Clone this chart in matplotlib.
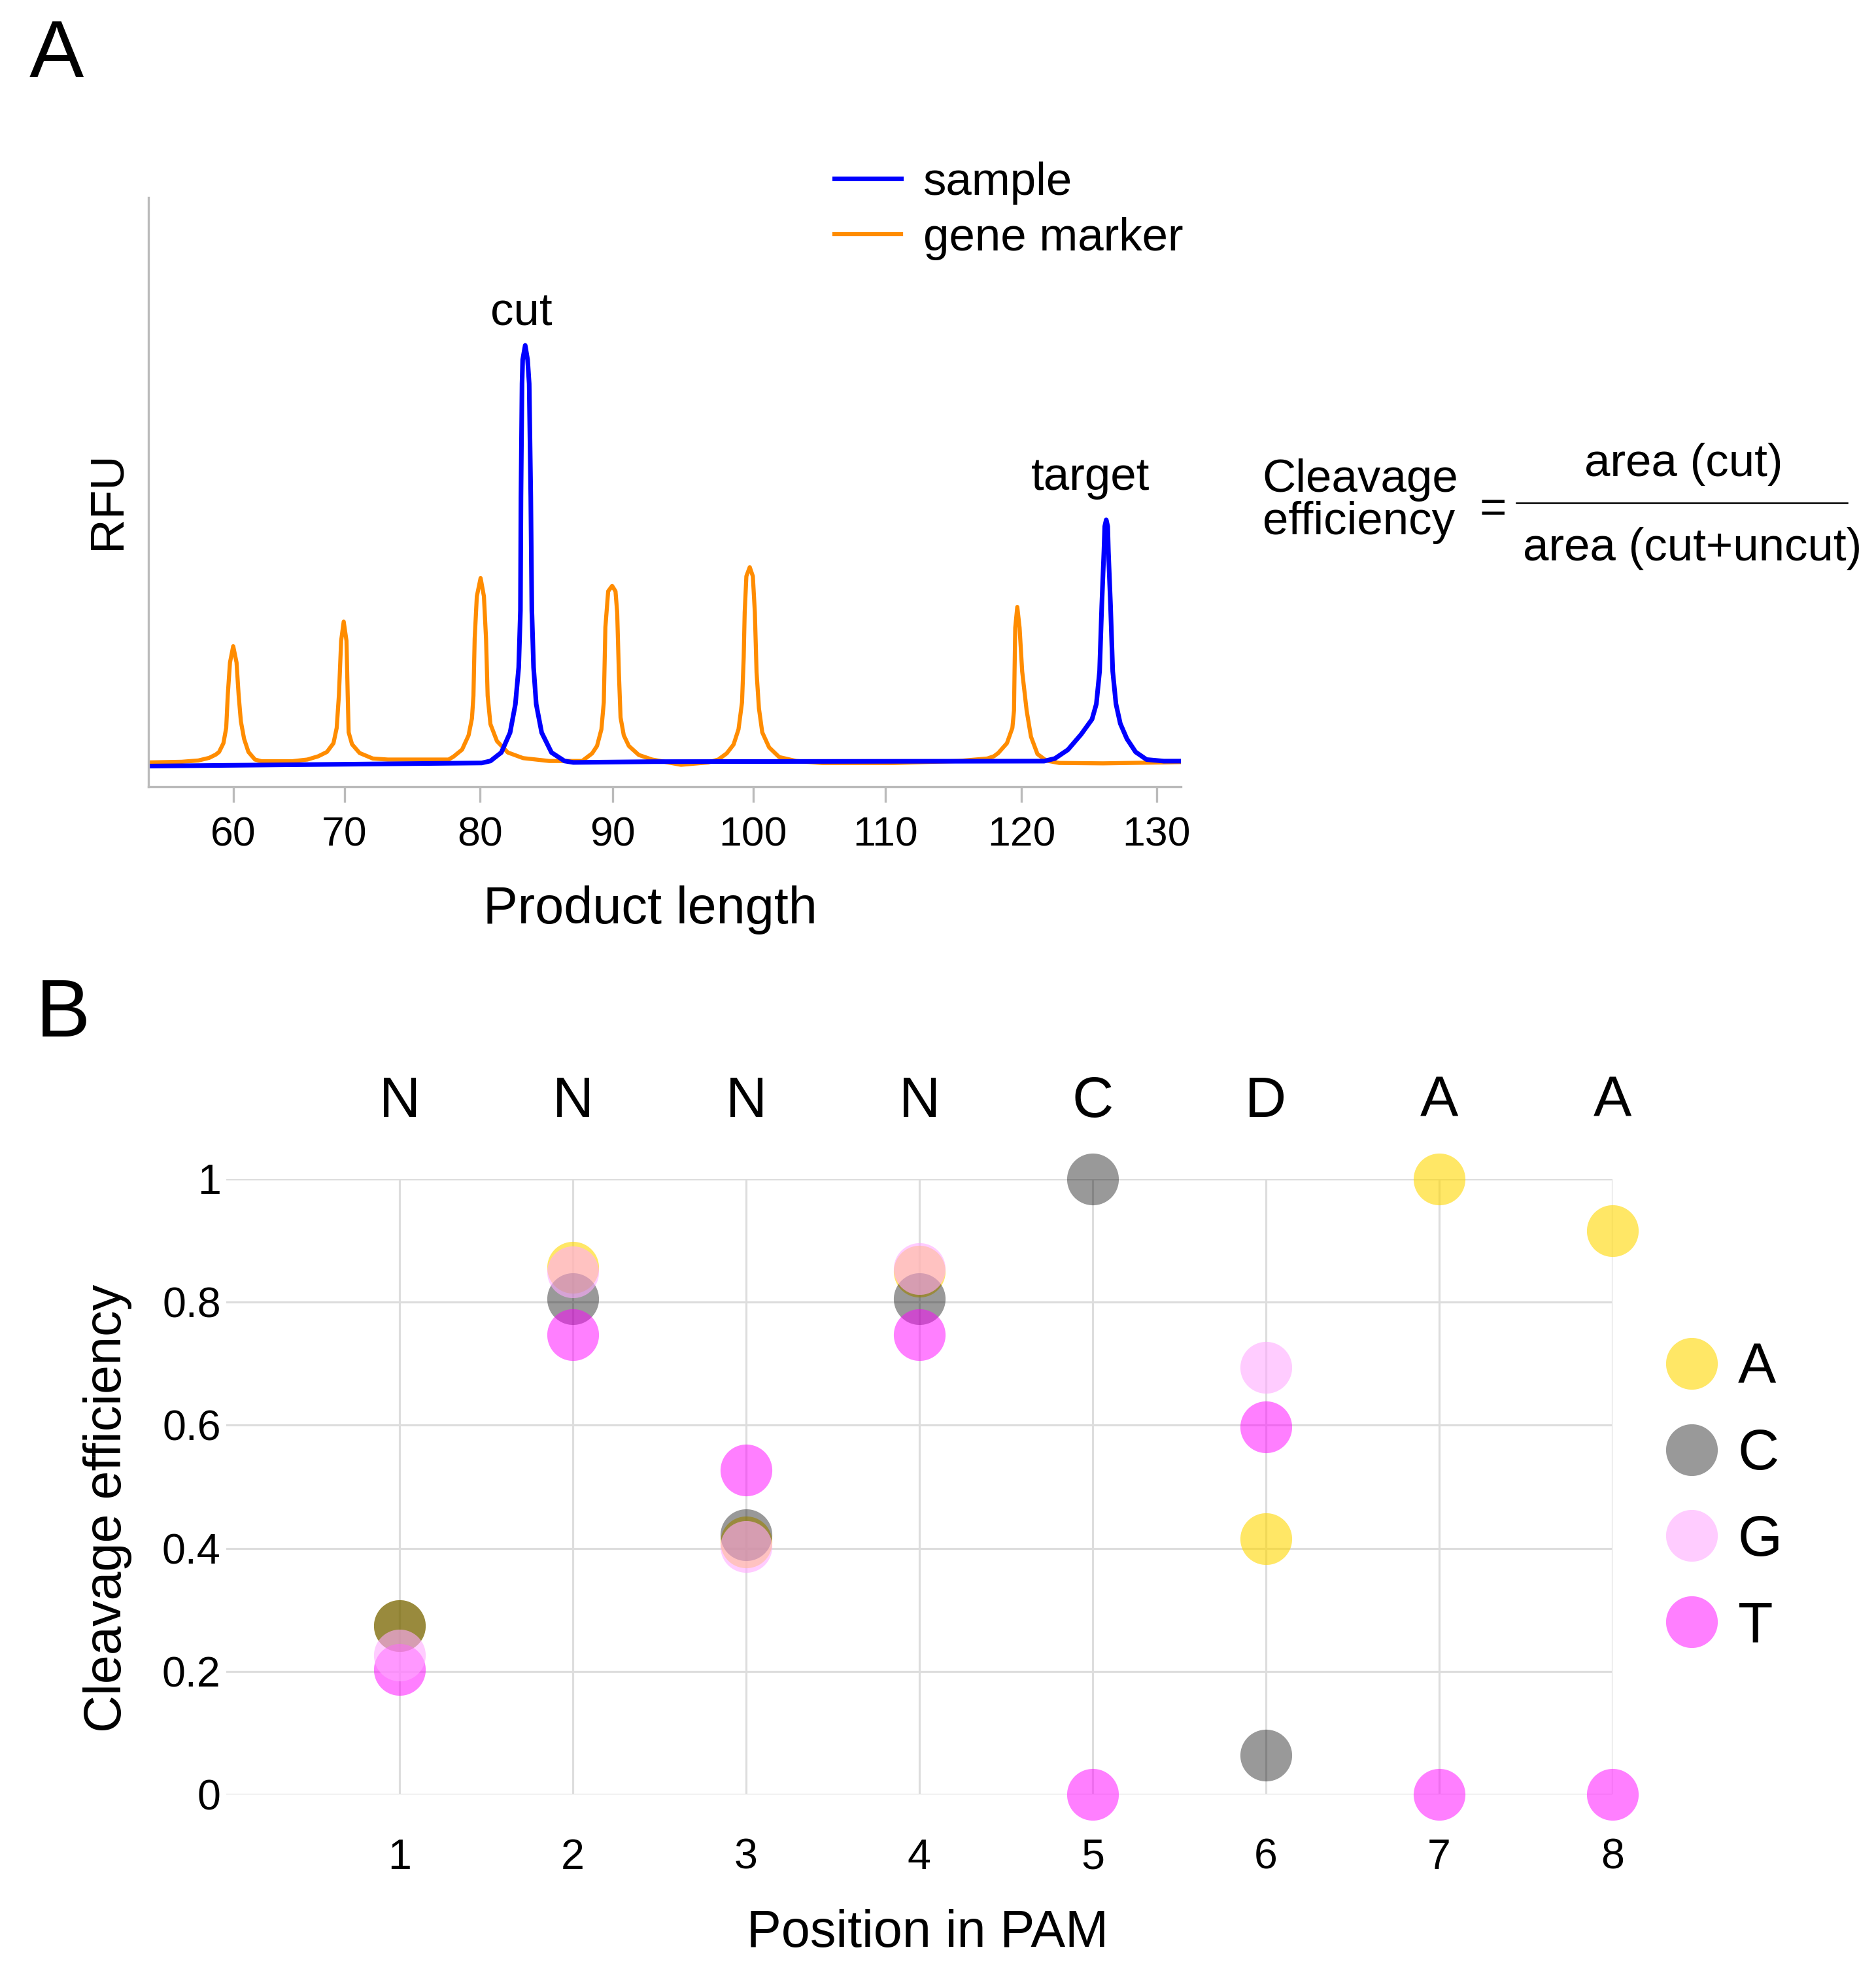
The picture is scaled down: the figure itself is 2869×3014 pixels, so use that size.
import numpy as np
import matplotlib.pyplot as plt
from matplotlib.lines import Line2D
from matplotlib.ticker import FuncFormatter

plt.rcParams['font.family'] = ['Liberation Sans', 'DejaVu Sans']

# ---- panel A: electropherogram (product length in bp, RFU) ----
marker_size = [52.35, 55.35, 56.85, 57.82, 58.41, 58.71, 59.10, 59.35, 59.49, 59.69, 59.98,
               60.28, 60.47, 60.67, 60.96, 61.35, 61.94, 62.53,
               65.28, 66.65, 67.63, 68.41, 69.00, 69.29, 69.49, 69.69, 69.92, 70.14, 70.23,
               70.30, 70.55, 71.11, 72.08, 73.20,
               77.68, 78.04, 78.68, 79.16, 79.41, 79.52, 79.61, 79.77, 80.05, 80.30, 80.46,
               80.58, 80.79, 81.28, 82.10, 83.25, 85.22,
               87.70, 88.45, 88.82, 89.15, 89.33, 89.45, 89.66, 89.96, 90.20, 90.32, 90.44,
               90.56, 90.79, 91.15, 91.86, 92.81, 94.86, 96.79,
               97.51, 98.11, 98.60, 98.95, 99.20, 99.32, 99.39, 99.51, 99.75, 99.97, 100.12,
               100.25, 100.43, 100.68, 101.20, 101.96, 103.25, 105.3, 110.42, 115.40, 117.50,
               117.98, 118.30, 118.94, 119.34, 119.46, 119.50, 119.55, 119.70, 119.87, 120.06,
               120.39, 120.71, 121.19, 121.84, 122.80, 126.03, 130.53, 131.79]
marker_rfu = [-5, 0, 10, 30, 55, 75, 142, 259, 509, 759, 884,
              759, 509, 309, 175, 75, 17, 4,
              4, 17, 42, 75, 142, 259, 509, 925, 1072, 925, 509,
              225, 134, 67, 25, 17,
              17, 39, 93, 202, 332, 505, 940, 1265, 1405, 1265, 940,
              505, 288, 158, 71, 28, 6,
              6, 64, 121, 248, 454, 1029, 1304, 1345, 1304, 1143, 684,
              339, 202, 121, 52, 17, -23, -5,
              17, 64, 132, 248, 454, 799, 1143, 1419, 1488, 1419, 1143,
              684, 408, 225, 110, 36, 6, -10, -10, 6, 25,
              42, 67, 142, 259, 392, 692, 1025, 1184, 1025, 692,
              392, 192, 59, 9, -9, -12, -5, -2]

sample_size = [52.35, 80.13, 80.79, 81.61, 82.27, 82.67, 82.92, 83.05, 83.09, 83.17, 83.22,
               83.41, 83.59, 83.71, 83.83, 83.91, 84.04, 84.24, 84.65, 85.39, 86.37, 87.03,
               92.93, 121.68, 122.48, 123.44, 124.41, 125.22, 125.54, 125.78, 125.94, 126.10,
               126.16, 126.27, 126.38, 126.43, 126.59, 126.75, 126.99, 127.31, 127.80, 128.44,
               129.25, 130.53, 131.79]
sample_rfu = [-33, -9, 6, 71, 223, 440, 722, 1156, 2025, 2891, 3075,
              3184, 3075, 2891, 2025, 1156, 722, 440, 223, 71, 6, -5,
              1, 5, 25, 92, 209, 325, 442, 692, 1192, 1609,
              1800, 1850, 1800, 1609, 1192, 692, 442, 292, 175, 75,
              17, 5, 5]

# size-standard calibration (bp -> migration scan)
ladder_size = [50, 60, 70, 80, 90, 100, 110, 120, 130, 140]
ladder_scan = [187, 357, 527, 734, 937, 1152, 1354, 1562, 1769, 1976]
size_ticks = [60, 70, 80, 90, 100, 110, 120, 130]

# ---- panel B: cleavage efficiency per PAM position ----
positions = [1, 2, 3, 4, 5, 6, 7, 8]
pam = ['N', 'N', 'N', 'N', 'C', 'D', 'A', 'A']
bases = ['A', 'C', 'G', 'T']
eff = {
    'A': [0.274, 0.857, 0.41, 0.85, np.nan, 0.415, 1.0, 0.916],
    'C': [0.274, 0.806, 0.422, 0.805, 1.0, 0.064, np.nan, np.nan],
    'G': [0.226, 0.849, 0.403, 0.854, np.nan, 0.694, np.nan, np.nan],
    'T': [0.203, 0.747, 0.527, 0.747, 0.0, 0.597, 0.0, 0.0],
}
base_colors = {'A': '#ffd700', 'C': '#000000', 'G': '#ffaaff', 'T': '#ff00ff'}
base_alpha = {'A': 0.6, 'C': 0.4, 'G': 0.6, 'T': 0.5}
draw_order = ['A', 'C', 'T', 'G']

fig = plt.figure(figsize=(2869 / 300, 3014 / 300), dpi=300)

# ---------------- A ----------------
axA = fig.add_axes([0.0791, 0.6009, 0.5504, 0.2989])
fwd = lambda x: np.interp(x, ladder_size, ladder_scan)
inv = lambda y: np.interp(y, ladder_scan, ladder_size)
axA.set_xscale('function', functions=(fwd, inv))
l_marker, = axA.plot(marker_size, marker_rfu, color='#ff8c00', lw=1.5, label='gene marker')
l_sample, = axA.plot(sample_size, sample_rfu, color='#0000ff', lw=1.7, label='sample')
axA.set_xlim(52.35, 131.79)
axA.set_ylim(-190, 4315)
axA.set_xticks(size_ticks)
axA.set_xticklabels([str(t) for t in size_ticks])
axA.set_yticks([])
axA.tick_params(axis='x', direction='out', length=5.8, width=0.8, color='#bbbbbb',
                labelsize=15, pad=5)
for s in ['top', 'right']:
    axA.spines[s].set_visible(False)
for s in ['left', 'bottom']:
    axA.spines[s].set_color('#bbbbbb')
    axA.spines[s].set_linewidth(0.8)
axA.set_xlabel('Product length', fontsize=19)
axA.xaxis.set_label_coords(0.486, -0.168)
axA.set_ylabel('RFU', fontsize=17.5)
axA.yaxis.set_label_coords(-0.018, 0.486)
axA.text(83.1, 3335, 'cut', ha='center', va='baseline', fontsize=17)
axA.text(125.1, 2080, 'target', ha='center', va='baseline', fontsize=17)
fig.legend(handles=[l_sample, l_marker], loc='upper left', bbox_to_anchor=(0.4448, 0.9180),
           frameon=False, fontsize=17, handlelength=1.44, handletextpad=0.48,
           labelspacing=0.27, borderpad=0, borderaxespad=0)

# formula
fig.text(0.673, 0.7457, 'Cleavage\nefficiency', ha='left', va='center', fontsize=17,
         linespacing=0.98)
fig.text(0.7957, 0.7408, '=', ha='center', va='center', fontsize=17)
fig.text(0.8975, 0.7645, 'area (cut)', ha='center', va='center', fontsize=17)
fig.text(0.902, 0.7215, 'area (cut+uncut)', ha='center', va='center', fontsize=17)
fig.add_artist(Line2D([0.8083, 0.9847], [0.7449, 0.7449], transform=fig.transFigure,
                      color='black', lw=0.6))

# ---------------- B ----------------
axB = fig.add_axes([0.1206, 0.0896, 0.7389, 0.3122])
handles = {}
for b in draw_order:
    handles[b], = axB.plot(positions, eff[b], 'o', ms=19, mew=0, color=base_colors[b],
                           alpha=base_alpha[b], label=b, clip_on=False, zorder=3)
axB.set_xlim(0, 8)
axB.set_ylim(0, 1)
axB.set_xticks(positions)
axB.set_yticks([0, 0.2, 0.4, 0.6, 0.8, 1.0])
axB.yaxis.set_major_formatter(FuncFormatter(lambda v, p: '{:g}'.format(round(v, 1))))
axB.grid(True, color='#dddddd', lw=0.75)
axB.set_axisbelow(True)
for s in axB.spines.values():
    s.set_visible(False)
axB.tick_params(axis='x', length=0, labelsize=15.5, pad=16)
axB.tick_params(axis='y', length=0, labelsize=15.5, pad=2)
secax = axB.secondary_xaxis('top')
secax.set_xticks(positions, labels=pam)
secax.tick_params(length=0, labelsize=21, pad=18.5)
secax.spines['top'].set_visible(False)
axB.set_xlabel('Position in PAM', fontsize=19)
axB.xaxis.set_label_coords(0.506, -0.186)
axB.set_ylabel('Cleavage efficiency', fontsize=19)
axB.yaxis.set_label_coords(-0.068, 0.465)
axB.legend(handles=[handles[b] for b in bases], loc='upper left',
           bbox_to_anchor=(0.8864, 0.3190), bbox_transform=fig.transFigure,
           frameon=False, fontsize=21, handlelength=1.0, handletextpad=0.31,
           labelspacing=0.58, borderpad=0, borderaxespad=0)

fig.text(0.030, 0.9715, 'A', ha='center', va='center', fontsize=30)
fig.text(0.0335, 0.4847, 'B', ha='center', va='center', fontsize=30)

fig.savefig('out.png', dpi=300)
